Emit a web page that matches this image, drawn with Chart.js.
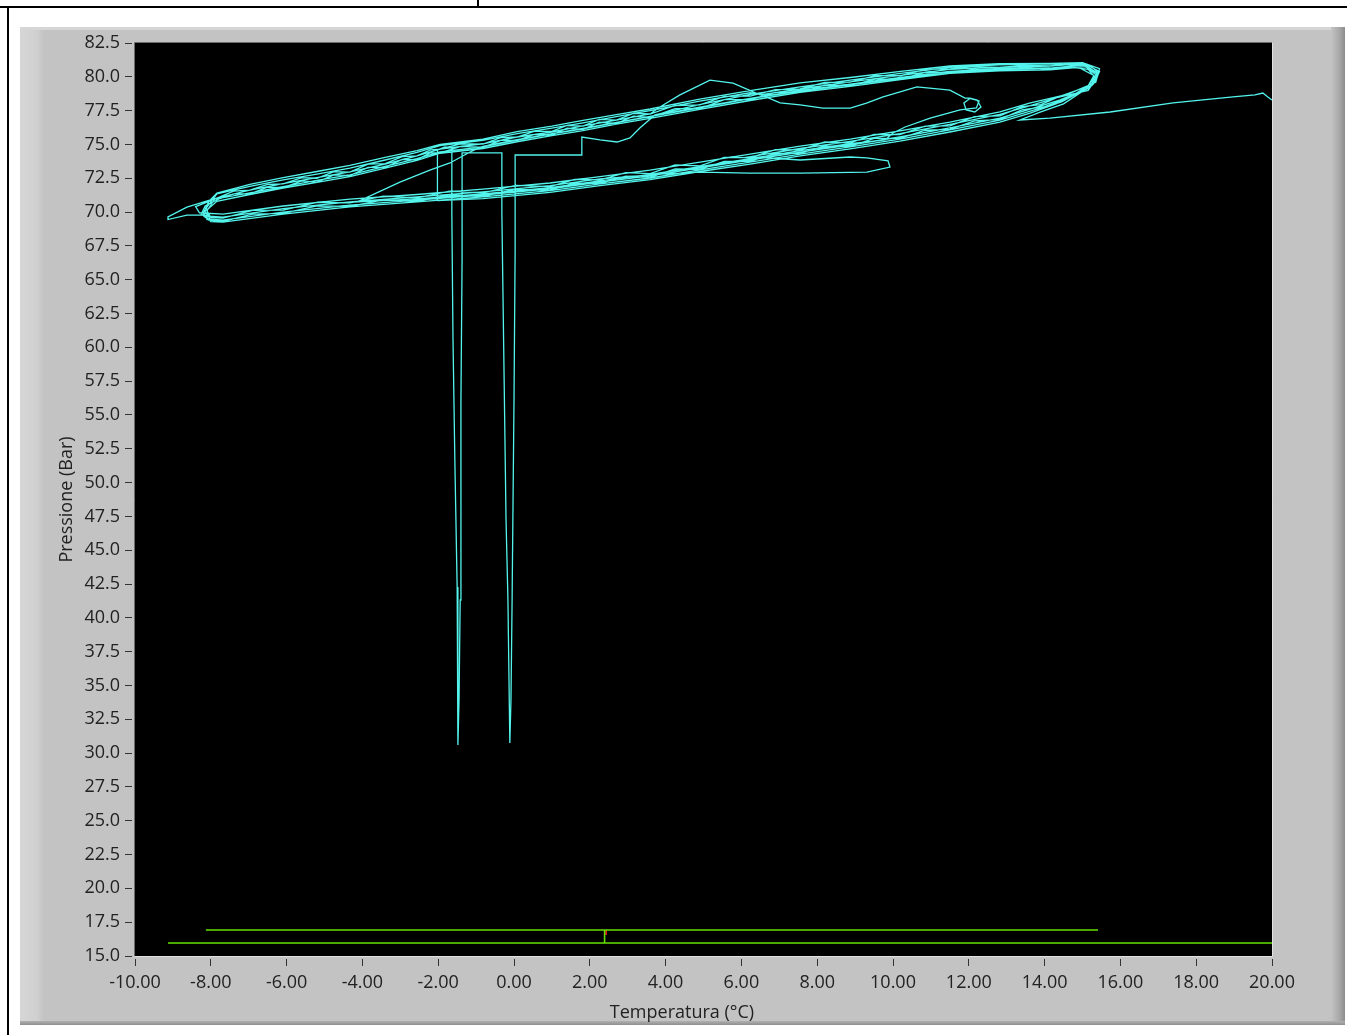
<!DOCTYPE html>
<html>
<head>
<meta charset="utf-8">
<script src="https://cdn.jsdelivr.net/npm/chart.js@4.4.0/dist/chart.umd.min.js"></script>
<style>
html,body{margin:0;padding:0;background:#fff;width:1347px;height:1035px;overflow:hidden;position:relative;font-family:"Open Sans",sans-serif;}
.abs{position:absolute;}
</style>
</head>
<body>
<div class="abs" style="left:0;top:6px;width:1347px;height:2px;background:#000"></div>
<div class="abs" style="left:477px;top:0;width:2px;height:7px;background:#000"></div>
<div class="abs" style="left:7px;top:6px;width:2px;height:1029px;background:#000"></div>
<div class="abs" style="left:20px;top:27px;width:1325px;height:998px;background:#c3c3c3"></div>
<div class="abs" style="left:20px;top:27px;width:24px;height:998px;background:linear-gradient(to right,#d6d6d6 0%,#d0d0d0 70%,#c3c3c3 100%)"></div>
<div class="abs" style="left:20px;top:27px;width:1325px;height:3px;background:#d6d6d6"></div>
<div class="abs" style="left:1331px;top:27px;width:14px;height:998px;background:linear-gradient(to right,#c3c3c3 0%,#a8a8a8 60%,#8c8c8c 100%)"></div>
<div class="abs" style="left:20px;top:1021px;width:1325px;height:4px;background:linear-gradient(to bottom,#b0b0b0,#8e8e8e)"></div>
<canvas id="c" width="1347" height="1035" style="position:absolute;left:0;top:0"></canvas>
<div class="abs" style="left:552px;top:999px;width:260px;line-height:24px;text-align:center;font-size:18px;color:#222">Temperatura (°C)</div>
<script>
// ---- tick values ----
const xTicks = [-10,-8,-6,-4,-2,0,2,4,6,8,10,12,14,16,18,20];
const yTicks = [15,17.5,20,22.5,25,27.5,30,32.5,35,37.5,40,42.5,45,47.5,50,52.5,55,57.5,60,62.5,65,67.5,70,72.5,75,77.5,80,82.5];

// ---- cyan trace segments [Temperatura °C, Pressione Bar] ----
const segStart = [[-8.10,69.40],[-8.10,69.77],[-8.63,69.77],[-9.13,69.45],[-9.13,69.65],[-8.63,70.37],[-7.90,71.00]];
const cyc1Up = [[-6.97,71.62],[-6.09,72.10],[-5.20,72.55],[-4.33,72.98],[-3.40,73.55],[-2.56,74.15],[-1.95,74.66],[-0.82,75.05],[0.08,75.55],[1.00,75.92],[1.82,76.38],[2.70,76.80],[3.59,77.25],[3.85,77.77],[4.38,78.66],[5.17,79.76],[5.78,79.54],[6.49,78.66],[7.55,79.10],[8.87,79.62],[10.20,80.10],[11.50,80.55],[12.80,80.70],[14.14,80.80],[15.01,80.98],[15.38,80.30],[15.20,79.20]];
const cyc1Down = [[14.41,78.29],[13.60,77.60],[12.82,76.95],[11.50,76.22],[10.18,75.55],[8.87,74.96],[7.55,74.44],[6.23,73.85],[4.91,73.26],[3.59,72.67],[2.27,72.22],[0.95,71.71],[-0.82,71.26],[-2.56,70.89],[-4.33,70.52],[-6.09,70.00],[-7.68,69.41],[-8.02,69.50],[-8.15,70.05]];
const cyc2Up = [[-7.84,70.80],[-6.97,71.30],[-6.09,71.78],[-5.20,72.20],[-4.33,72.62],[-3.40,73.25],[-2.56,73.82],[-1.95,74.35],[-0.82,74.70],[0.08,75.20],[1.00,75.65],[1.82,76.02],[2.70,76.50],[3.59,76.92],[4.90,77.60],[6.23,78.25],[7.55,78.85],[8.87,79.30],[10.20,79.80],[11.50,80.25],[12.80,80.45],[14.14,80.52],[14.90,80.70],[15.30,80.10],[15.10,79.10]];
const cyc2Down = [[14.30,78.00],[13.60,77.30],[12.82,76.65],[11.50,75.92],[10.18,75.25],[8.87,74.68],[7.55,74.15],[6.23,73.55],[4.91,73.00],[3.59,72.40],[2.27,71.95],[0.95,71.45],[-0.82,71.00],[-2.03,70.85]];
const dipExcursion = [[-2.03,71.11],[-2.02,72.80],[-2.01,74.59],[-1.82,74.81],[-1.64,74.74],[-1.64,74.37],[-1.64,69.92],[-1.61,60.69],[-1.56,51.52],[-1.50,42.28],[-1.48,30.60],[-1.45,33.93],[-1.42,41.32],[-1.40,56.11],[-1.37,66.46],[-1.37,74.37],[-0.32,74.37],[-0.32,69.92],[-0.26,57.58],[-0.21,47.23],[-0.16,41.32],[-0.11,30.75],[-0.08,33.93],[-0.05,41.32],[0.00,56.11],[0.03,67.20],[0.03,74.22],[1.79,74.22],[1.79,75.55],[2.27,75.33],[2.72,75.18],[3.06,75.48],[3.32,76.22],[3.72,77.18]];
const cyc2UpB = [[4.90,77.95],[6.23,78.70],[7.55,79.25],[8.87,79.75],[10.20,80.25],[11.50,80.70],[12.80,80.88],[14.14,80.95],[15.05,80.85],[15.40,80.05],[15.15,79.00]];
const cyc2DownB = [[14.30,78.45],[13.60,77.85],[12.82,77.22],[11.50,76.48],[10.18,75.80],[8.87,75.22],[7.55,74.70],[6.23,74.10],[7.55,73.85],[8.87,74.07],[9.31,74.00],[9.87,73.78],[9.92,73.33],[9.31,72.95],[7.55,72.88],[6.23,72.88],[4.91,72.95],[3.85,72.80],[2.27,72.45],[0.95,71.95],[-0.82,71.50],[-2.56,71.12],[-4.33,70.75],[-6.09,70.25],[-7.68,69.62],[-8.05,69.70],[-8.12,70.30]];
const cyc3Up = [[-7.84,71.35],[-6.97,71.90],[-6.09,72.38],[-5.20,72.80],[-4.33,73.25],[-3.40,73.85],[-2.56,74.42],[-1.95,74.92],[-0.82,75.30],[0.08,75.80],[1.00,76.20],[1.82,76.60],[2.70,77.05],[3.59,77.50],[4.90,78.20],[6.23,78.82],[6.49,78.70]];
const innerCurve = [[7.02,78.07],[7.55,77.92],[8.15,77.69],[8.87,77.69],[9.30,78.05],[9.74,78.51],[10.63,79.25],[11.50,79.02],[11.90,78.43],[12.03,78.43],[12.22,78.29],[12.32,77.77],[12.16,77.40],[11.93,77.55],[11.87,78.07],[12.03,78.40],[12.27,78.22],[12.20,77.70],[11.77,77.55],[10.98,76.95],[10.32,76.29],[10.00,75.85],[9.79,75.33]];
const cyc3Down = [[8.87,75.05],[7.55,74.55],[6.23,73.95],[4.91,73.36],[3.59,72.78],[2.27,72.30],[0.95,71.80],[-0.82,71.35],[-2.56,70.98],[-4.14,70.75]];
const diagonal = [[-3.01,72.22],[-2.22,73.10],[-1.69,73.63],[-1.16,74.44],[-0.82,74.85],[0.08,75.35]];
const cyc3UpB = [[1.82,76.18],[3.59,77.08],[4.90,77.75],[6.23,78.40],[7.55,79.00],[8.87,79.45],[10.20,79.95],[11.50,80.40],[12.80,80.60],[14.14,80.65],[15.10,80.90],[15.45,80.40],[15.25,79.35]];
const cyc3DownB = [[14.45,78.15],[13.60,77.45],[12.82,76.80],[11.50,76.08],[10.18,75.40],[8.87,74.82],[7.55,74.28],[6.23,73.70],[4.91,73.12],[3.59,72.52],[2.27,72.08],[0.95,71.58],[-0.82,71.12],[-2.56,70.75],[-4.33,70.38],[-6.09,69.85],[-7.68,69.25],[-8.00,69.30],[-8.20,69.90]];
const cyc4Up = [[-8.05,70.80],[-7.84,71.40],[-6.97,72.05],[-6.09,72.55],[-5.20,73.00],[-4.33,73.45],[-3.40,74.05],[-2.56,74.55],[-1.95,75.00],[-0.82,75.40],[0.08,75.95],[1.00,76.35],[1.82,76.78],[2.70,77.20],[3.59,77.62],[4.90,78.35],[6.23,78.98],[7.55,79.55],[8.87,79.95],[10.20,80.40],[11.50,80.80],[12.80,80.98],[14.14,81.00],[15.00,81.05],[15.45,80.60],[15.35,79.60]];
const cyc4Down = [[14.60,78.70],[13.60,78.05],[12.82,77.40],[11.50,76.65],[10.18,76.00],[8.87,75.40],[7.55,74.88],[6.23,74.28],[4.91,73.70],[3.59,73.10],[2.27,72.62],[0.95,72.15],[-0.82,71.70],[-2.56,71.30],[-4.33,70.95],[-6.09,70.45],[-7.68,69.85],[-8.30,69.95],[-8.40,70.40]];
const cyc6Up = [[-7.95,70.90],[-7.40,71.55],[-6.97,71.62],[-6.50,72.05],[-6.09,72.08],[-5.60,72.55],[-5.20,72.50],[-4.75,72.98],[-4.33,72.95],[-3.85,73.55],[-3.40,73.58],[-2.95,74.10],[-2.56,74.15],[-2.20,74.60],[-1.95,74.65],[-1.40,75.05],[-0.82,75.02],[-0.35,75.50],[0.08,75.55],[0.55,75.98],[1.00,75.96],[1.40,76.40],[1.82,76.36],[2.25,76.85],[2.70,76.80],[3.15,77.30],[3.59,77.25],[4.25,77.88],[4.90,77.92],[5.55,78.55],[6.23,78.58],[6.90,79.05],[7.55,79.10],[8.20,79.58],[8.87,79.60],[9.55,80.10],[10.20,80.08],[10.85,80.55],[11.50,80.58],[12.15,80.75],[12.80,80.70],[13.45,80.85],[14.14,80.80],[14.70,80.95],[15.20,80.85],[15.40,80.35],[15.25,79.50]];
const cyc6Down = [[14.60,78.40],[14.00,77.80],[13.40,77.55],[12.82,76.85],[12.15,76.75],[11.50,76.12],[10.85,76.05],[10.18,75.45],[9.50,75.45],[8.87,74.86],[8.20,74.90],[7.55,74.34],[6.90,74.35],[6.23,73.75],[5.55,73.75],[4.91,73.16],[4.25,73.20],[3.59,72.57],[2.95,72.65],[2.27,72.12],[1.60,72.15],[0.95,71.61],[0.05,71.70],[-0.82,71.16],[-1.70,71.28],[-2.56,70.79],[-3.45,70.90],[-4.33,70.42],[-5.20,70.45],[-6.09,69.90],[-6.90,69.85],[-7.68,69.31],[-8.05,69.40],[-8.25,69.85],[-8.15,70.45]];
const cyc7Up = [[-7.80,70.95],[-7.40,71.35],[-6.97,71.35],[-6.50,71.85],[-6.09,71.80],[-5.60,72.30],[-5.20,72.22],[-4.75,72.75],[-4.33,72.70],[-3.85,73.30],[-3.40,73.30],[-2.95,73.90],[-2.56,73.88],[-2.20,74.40],[-1.95,74.38],[-1.40,74.85],[-0.82,74.78],[-0.35,75.30],[0.08,75.30],[0.55,75.75],[1.00,75.70],[1.40,76.20],[1.82,76.12],[2.25,76.65],[2.70,76.55],[3.15,77.10],[3.59,77.00],[4.25,77.65],[4.90,77.65],[5.55,78.32],[6.23,78.32],[6.90,78.85],[7.55,78.85],[8.20,79.38],[8.87,79.35],[9.55,79.85],[10.20,79.82],[10.85,80.32],[11.50,80.30],[12.15,80.55],[12.80,80.45],[13.45,80.68],[14.14,80.55],[14.70,80.72],[15.15,80.55],[15.32,80.00],[15.15,79.30]];
const cyc7Down = [[14.40,78.55],[13.90,77.95],[13.40,77.80],[12.82,77.12],[12.15,77.05],[11.50,76.38],[10.85,76.35],[10.18,75.72],[9.50,75.75],[8.87,75.12],[8.20,75.18],[7.55,74.60],[6.90,74.62],[6.23,74.02],[5.55,74.05],[4.91,73.42],[4.25,73.48],[3.59,72.85],[2.95,72.92],[2.27,72.38],[1.60,72.42],[0.95,71.88],[0.05,71.98],[-0.82,71.42],[-1.70,71.55],[-2.56,71.05],[-3.45,71.18],[-4.33,70.68],[-5.20,70.72],[-6.09,70.15],[-6.90,70.12],[-7.68,69.55],[-8.00,69.60],[-8.10,70.10]];
const cyc5Up = [[-7.90,70.95],[-6.97,71.42],[-6.09,71.88],[-5.20,72.35],[-4.33,72.75],[-3.40,73.38],[-2.56,73.95],[-1.95,74.45],[-0.82,74.82],[0.08,75.32],[1.00,75.78],[1.82,76.15],[2.70,76.62],[3.59,77.05],[4.90,77.70],[6.23,78.38],[7.55,78.95],[8.87,79.40],[10.20,79.88],[11.50,80.35],[12.80,80.55],[14.14,80.62],[15.08,80.75],[15.42,80.20],[15.28,79.45]];
const cyc5DownTail = [[14.50,78.00],[13.90,77.40],[13.35,76.81],[14.14,76.95],[15.73,77.40],[17.39,78.07],[18.97,78.51],[19.55,78.66],[19.76,78.80],[19.89,78.51],[20.00,78.29]];

// ---- green reference lines & cursor ----
const refHigh = [[-8.13,16.92],[15.41,16.92]];
const refLow = [[-9.13,15.96],[20.00,15.96]];
const cursorGreen = [[2.39,15.96],[2.39,16.92]];
const cursorRed = [[2.43,16.55],[2.43,16.92]];

const traceSegments = [segStart,cyc1Up,cyc1Down,cyc2Up,cyc2Down,dipExcursion,cyc2UpB,cyc2DownB,cyc3Up,innerCurve,cyc3Down,diagonal,cyc3UpB,cyc3DownB,cyc4Up,cyc4Down,cyc6Up,cyc6Down,cyc7Up,cyc7Down,cyc5Up,cyc5DownTail];
const toXY = arr => arr.map(p => ({x:p[0], y:p[1]}));
const trace = toXY([].concat(...traceSegments));

const FONT = '"Open Sans", sans-serif';
const TXT = '#222';

const plotFrame = {
  id:'plotFrame',
  beforeDraw(chart){
    const a = chart.chartArea, c = chart.ctx;
    c.save(); c.fillStyle = '#000';
    c.fillRect(a.left, a.top, a.right - a.left, a.bottom - a.top);
    c.restore();
  },
  afterDatasetsDraw(chart){
    const a = chart.chartArea, c = chart.ctx;
    c.save(); c.lineWidth = 1;
    c.strokeStyle = '#6c6c6c';
    c.beginPath(); c.moveTo(a.left - 0.5, a.bottom); c.lineTo(a.left - 0.5, a.top - 0.5); c.lineTo(a.right, a.top - 0.5); c.stroke();
    c.strokeStyle = '#e2e2e2';
    c.beginPath(); c.moveTo(a.left, a.bottom + 0.5); c.lineTo(a.right + 0.5, a.bottom + 0.5); c.lineTo(a.right + 0.5, a.top); c.stroke();
    c.restore();
  }
};

const lineDs = (data, color, w) => ({data: toXY(data), showLine:true, borderColor:color, borderWidth:w, pointRadius:0, tension:0, fill:false});

new Chart(document.getElementById('c'), {
  type:'scatter',
  data:{
    datasets:[
      {data: trace, showLine:true, borderColor:'#52F4EC', borderWidth:1.3, pointRadius:0, tension:0, fill:false},
      lineDs(refHigh, '#66E000', 1.6),
      lineDs(refLow, '#66E000', 1.6),
      lineDs(cursorGreen, '#66E000', 1.6),
      lineDs(cursorRed, '#FF2020', 1.6)
    ]
  },
  options:{
    responsive:false, animation:false, devicePixelRatio:1,
    layout:{padding:{left:20, top:43, right:75, bottom:0}},
    plugins:{legend:{display:false}, tooltip:{enabled:false}},
    scales:{
      x:{
        type:'linear', position:'bottom', min:-10, max:20,
        afterFit(s){ s.height = 79; },
        afterBuildTicks(s){ s.ticks = xTicks.map(v => ({value:v})); },
        ticks:{autoSkip:false, maxRotation:0, minRotation:0, padding:6, color:TXT, font:{family:FONT, size:18}, callback:v => Number(v).toFixed(2)},
        grid:{drawOnChartArea:false, drawTicks:true, tickLength:10, tickColor:'#333', tickWidth:1, tickBorderDash:[7,3], tickBorderDashOffset:7},
        border:{display:false}
      },
      y:{
        type:'linear', position:'left', min:15, max:82.5,
        afterFit(s){ s.width = 115; },
        afterBuildTicks(s){ s.ticks = yTicks.map(v => ({value:v})); },
        ticks:{autoSkip:false, padding:5, color:TXT, font:{family:FONT, size:18}, callback:v => Number(v).toFixed(1)},
        grid:{drawOnChartArea:false, drawTicks:true, tickLength:10, tickColor:'#333', tickWidth:1, tickBorderDash:[7,3], tickBorderDashOffset:0},
        border:{display:false},
        title:{display:true, text:'Pressione (Bar)', color:TXT, font:{family:FONT, size:18}, padding:{top:36, bottom:0}}
      }
    }
  },
  plugins:[plotFrame]
});
</script>
</body>
</html>
